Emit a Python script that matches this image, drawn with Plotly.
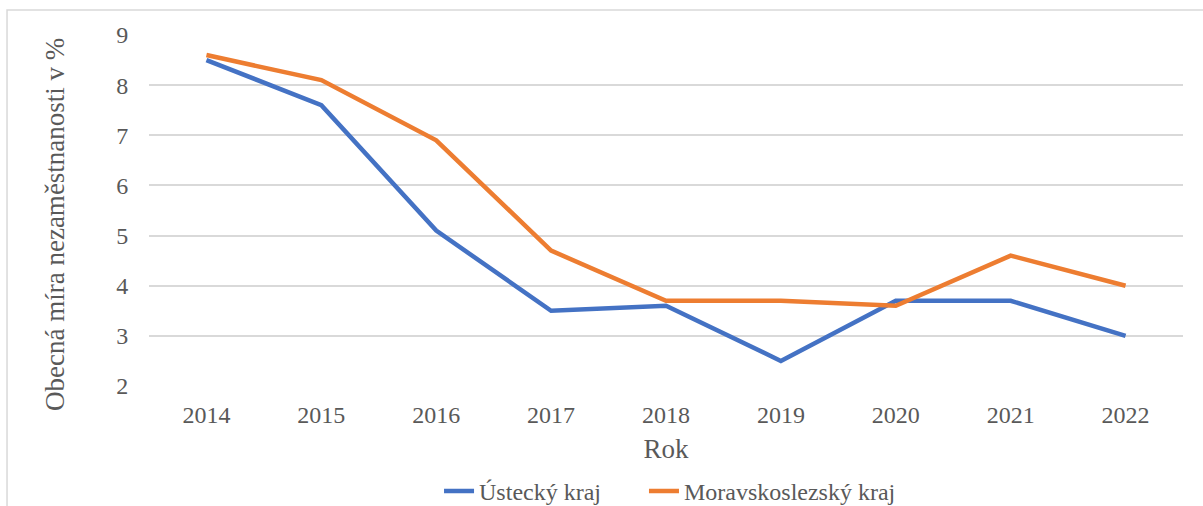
import plotly.graph_objects as go

years = ["2014", "2015", "2016", "2017", "2018", "2019", "2020", "2021", "2022"]
ustecky = [8.5, 7.6, 5.1, 3.5, 3.6, 2.5, 3.7, 3.7, 3.0]
moravskoslezsky = [8.6, 8.1, 6.9, 4.7, 3.7, 3.7, 3.6, 4.6, 4.0]
series_names = ["Ústecký kraj", "Moravskoslezský kraj"]
y_title = "Obecná míra nezaměstnanosti v %"
x_title = "Rok"

FONT = "Liberation Serif, Times New Roman, serif"
TXT = "#595959"
FS = 24
TFS = 27

fig = go.Figure()
fig.add_trace(go.Scatter(x=years, y=ustecky, mode="lines", name=series_names[0],
                         line=dict(color="#4472C4", width=4.5), legend="legend"))
fig.add_trace(go.Scatter(x=years, y=moravskoslezsky, mode="lines", name=series_names[1],
                         line=dict(color="#ED7D31", width=4.5), legend="legend2"))

leg_common = dict(orientation="h", y=-0.30, yanchor="middle", xanchor="left",
                  font=dict(size=FS, color=TXT), bgcolor="rgba(0,0,0,0)")

fig.update_layout(
    width=1203, height=506,
    margin=dict(l=149, r=20, t=35, b=120, autoexpand=False),
    paper_bgcolor="white", plot_bgcolor="white",
    font=dict(family=FONT, color=TXT, size=FS),
    showlegend=True,
    legend=dict(x=0.2805, **leg_common),
    legend2=dict(x=0.4787, **leg_common),
    xaxis=dict(type="category", range=[-0.5, 8.5], showgrid=False, zeroline=False,
               showline=False, ticks="outside", ticklen=7, tickcolor="rgba(0,0,0,0)",
               tickfont=dict(size=FS, color=TXT), automargin=False,
               title=dict(text=x_title, font=dict(size=TFS, color=TXT), standoff=12)),
    yaxis=dict(range=[2, 9], dtick=1, showgrid=True, gridcolor="#D9D9D9", gridwidth=1.5,
               zeroline=False, showline=False, ticks="outside", ticklen=15,
               tickcolor="rgba(0,0,0,0)", tickfont=dict(size=FS, color=TXT), automargin=False),
    annotations=[dict(text=y_title, xref="paper", yref="paper", x=-0.0909, y=0.4587,
                      xanchor="center", yanchor="middle", textangle=-90, showarrow=False,
                      font=dict(size=TFS, color=TXT))],
    shapes=[dict(type="rect", xref="paper", yref="paper",
                 x0=-0.1373, x1=1.03, y0=-0.40, y1=1.0712,
                 line=dict(color="#D9D9D9", width=1.5), fillcolor="rgba(0,0,0,0)", layer="below")],
)

fig.write_html("out.html", config={"displayModeBar": False},
               post_script="document.body.style.margin='0px';")
